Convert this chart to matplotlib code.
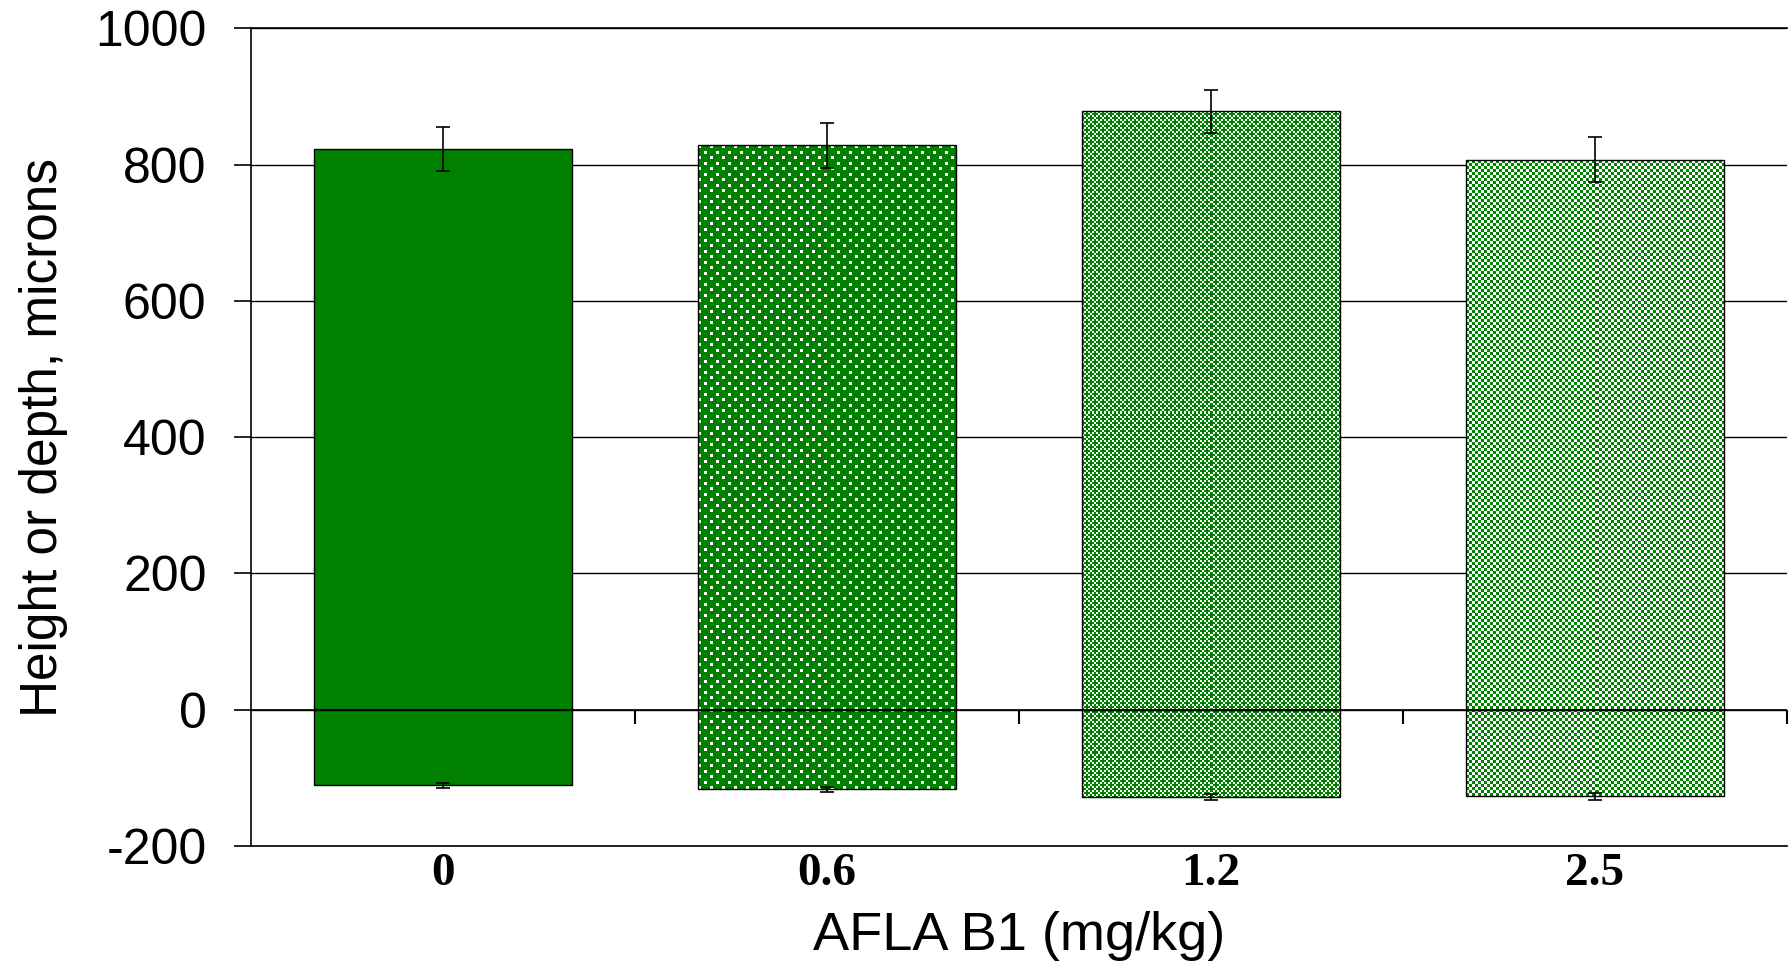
import numpy as np
import matplotlib
matplotlib.use("Agg")
import matplotlib.pyplot as plt
from matplotlib.colors import to_rgb

plt.rcParams["axes.unicode_minus"] = False

# ---- data ----
categories = ["0", "0.6", "1.2", "2.5"]
height = [823, 828, 878, 807]
height_err = [32, 33, 32, 33]
depth = [-111, -117, -128, -127]
depth_err = [4, 4, 4, 5]
patterns = ["solid", "dots", "cross", "checker"]
yticks = [-200, 0, 200, 400, 600, 800, 1000]

GREEN = "#008000"

fig = plt.figure(figsize=(17.9, 9.61), dpi=100)
ax = fig.add_axes([0.1402, 0.1197, 0.9983 - 0.1402, 0.9706 - 0.1197])

x = np.arange(len(categories))
width = 0.67
ax.set_xlim(-0.5, len(categories) - 0.5)
ax.set_ylim(yticks[0], yticks[-1])

bars_h = ax.bar(x, height, width=width, color=GREEN, edgecolor="black", linewidth=1, zorder=2)
bars_d = ax.bar(x, depth, width=width, color=GREEN, edgecolor="black", linewidth=1, zorder=2)


def texture(kind, nx, ny):
    yy, xx = np.mgrid[0:ny, 0:nx]
    if kind == "dots":
        r = yy % 11
        c = xx % 12
        white = ((r < 3) & (c < 3)) | ((r >= 6) & (r < 9) & (c >= 6) & (c < 9))
    elif kind == "cross":
        cr = (yy // 2) % 4
        cc = (xx // 2) % 4
        green = ((cr + cc) % 2 == 0) | ((cr == 1) & (cc == 2)) | ((cr == 3) & (cc == 0))
        white = ~green
    else:  # checker
        cr = yy // 3
        cc = xx // 3
        white = (cr + cc) % 2 == 1
    img = np.ones((ny, nx, 3))
    img[~white] = to_rgb(GREEN)
    return img


for bars in (bars_h, bars_d):
    for bar, kind in zip(bars, patterns):
        if kind == "solid":
            continue
        x0, y0 = bar.get_x(), bar.get_y()
        x1, y1 = x0 + bar.get_width(), y0 + bar.get_height()
        p0 = ax.transData.transform((x0, min(y0, y1)))
        p1 = ax.transData.transform((x1, max(y0, y1)))
        nx = max(int(round(p1[0] - p0[0])), 1)
        ny = max(int(round(p1[1] - p0[1])), 1)
        im = ax.imshow(texture(kind, nx, ny), extent=(x0, x1, min(y0, y1), max(y0, y1)),
                       aspect="auto", interpolation="nearest", zorder=2.5)
        im.set_clip_path(bar)
        bar.set_facecolor("none")
        bar.set_zorder(3)

ax.set_xlim(-0.5, len(categories) - 0.5)
ax.set_ylim(yticks[0], yticks[-1])

ax.errorbar(x, height, yerr=height_err, fmt="none", ecolor="black", elinewidth=1.2,
            capsize=5, capthick=1.2, zorder=4)
ax.errorbar(x, depth, yerr=depth_err, fmt="none", ecolor="black", elinewidth=1.2,
            capsize=5, capthick=1.2, zorder=4)

ax.axhline(0, color="black", linewidth=1.2, zorder=4)

# grid & spines
ax.set_yticks(yticks)
ax.yaxis.grid(True, color="black", linewidth=1)
ax.set_axisbelow(True)
ax.spines["right"].set_visible(False)
for s in ("left", "top", "bottom"):
    ax.spines[s].set_color("black")
    ax.spines[s].set_linewidth(1.2)

ax.tick_params(axis="y", direction="out", length=12, width=1.2, pad=20,
               labelsize=36, labelfontfamily="Liberation Sans")
ax.set_xticks(x)
ax.set_xticklabels(categories, fontfamily="Liberation Serif", fontweight="bold", fontsize=34)
ax.tick_params(axis="x", length=0, pad=5)

# ticks at category boundaries on the zero line
sec = ax.secondary_xaxis(0, transform=ax.transData)
sec.set_xticks(x + 0.5)
sec.tick_params(direction="out", length=10, width=1.5, labelbottom=False, labeltop=False)
for s in sec.spines.values():
    s.set_visible(False)
sec.set_zorder(5)

ax.set_xlabel("AFLA B1 (mg/kg)", fontsize=39, fontfamily="Liberation Sans")
ax.set_ylabel("Height or depth, microns", fontsize=37, fontfamily="Liberation Sans")
ax.xaxis.set_label_coords(0.5, -0.079)
ax.yaxis.set_label_coords(-0.119, 0.5)

fig.savefig("out.png", dpi=100)
